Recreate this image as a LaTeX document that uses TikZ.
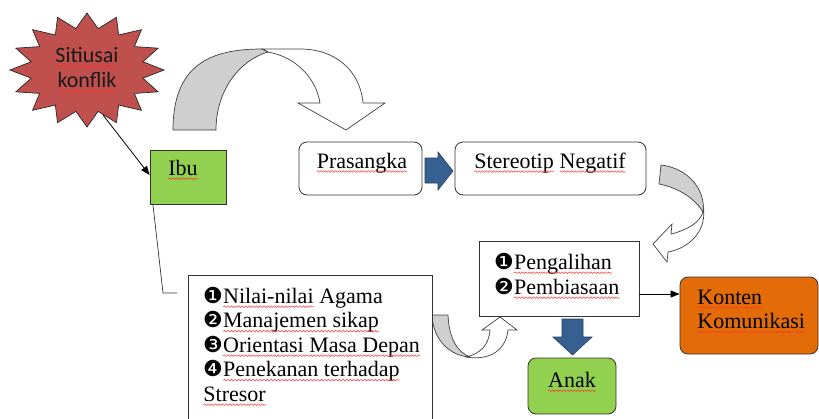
\documentclass[tikz,border=0pt]{standalone}
\usepackage{fontspec}
\setmainfont{Liberation Serif}
\newfontfamily\calfont{Carlito}
\newfontfamily\dvfont{DejaVu Sans}
\usetikzlibrary{arrows.meta,decorations.pathmorphing}
\definecolor{starred}{HTML}{C0504D}
\definecolor{boxgreen}{HTML}{92D050}
\definecolor{boxorange}{HTML}{E36C09}
\definecolor{arrowblue}{HTML}{376092}
\definecolor{arrowblueline}{HTML}{243F60}
\definecolor{curvegray}{HTML}{CFCFCF}
\definecolor{squig}{HTML}{FF3030}
\newcommand\sq[1]{\tikz[baseline=(sqt.base)]{%
  \node[inner sep=0pt, outer sep=0pt, anchor=base, draw=none, fill=none, minimum width=0pt, minimum height=0pt] (sqt) at (0,0) {#1};%
  \draw[squig, line width=0.5pt, decorate, decoration={snake, amplitude=0.8pt, segment length=3.6pt}]
    ([yshift=-3.2pt]sqt.base west) -- ([yshift=-3.2pt]sqt.base east);}}
\newcommand{\bul}[1]{{\dvfont\fontsize{22}{22}\selectfont #1}}
\tikzset{
  serif/.style={font=\fontsize{22}{24.5}\selectfont, inner sep=0pt},
  plainbox/.style={draw=black!80, line width=0.8pt, fill=white, inner sep=0pt},
  roundbox/.style={plainbox, rounded corners=8pt},
  bluearrow/.style={fill=arrowblue, draw=arrowblueline, line width=0.6pt},
  curvefront/.style={fill=white, draw=black!75, line width=0.7pt},
  curveback/.style={fill=curvegray, draw=black!75, line width=0.7pt},
  conn/.style={draw=black, line width=0.8pt},
  connarrow/.style={conn, -{Triangle[length=9pt,width=7pt]}}
}
\begin{document}
\begin{tikzpicture}[x=1pt,y=-1pt]
\useasboundingbox (0,0) rectangle (819,418);

% star
\filldraw[fill=starred, draw=black!85, line width=0.7pt]
  plot[variable=\k, samples at={0,...,31}]
  ({87+77*cos(\k*11.25)*(mod(\k,2)==0 ? 1 : 0.74)},
   {70+57*sin(\k*11.25)*(mod(\k,2)==0 ? 1 : 0.74)}) -- cycle;
\node[font=\calfont\fontsize{22}{25}\selectfont, align=center, inner sep=0pt, text=black!90] (star) at (87,70) {\sq{Sitiusai}\\\sq{konflik}};
\coordinate (starEnd) at (103,115);

% Ibu
\node[plainbox, fill=boxgreen, minimum width=76pt, minimum height=54pt] (ibu) at (188,177) {};
\node[serif] (ibuText) at (183,170) {\sq{Ibu}};
\draw[connarrow] (starEnd) -- (ibu.west |- 0,175);

% big curved arrow
\filldraw[curvefront] (262,49) -- (300,49) .. controls (335,49) and (360,70) .. (363,103)
  -- (385,103) -- (346,130) -- (298,103) -- (320,103)
  .. controls (316,78) and (296,57) .. (268,52) -- cycle;
\filldraw[curveback] (173,130) .. controls (173,65) and (210,49) .. (262,49) -- (268,52)
  .. controls (240,60) and (216,90) .. (216,130) -- cycle;

% Prasangka & Stereotip
\node[roundbox, minimum width=123pt, minimum height=53pt] (pras) at (360.5,168.5) {};
\node[serif] (prasText) at (362,163) {\sq{Prasangka}};
\node[roundbox, minimum width=191pt, minimum height=53pt] (stereo) at (550.5,168.5) {};
\node[serif] (stereoText) at (550,163) {\sq{Stereotip} \sq{Negatif}};
\filldraw[bluearrow] (425,158) -- (438,158) -- (438,152) -- (453,171) -- (438,190) -- (438,183) -- (425,183) -- cycle;

% right curved arrow
\filldraw[curvefront] (703,205) .. controls (708,230) and (690,248) .. (668,252)
  -- (667,262) -- (653,244) -- (672,224) -- (671,234)
  .. controls (688,230) and (700,222) .. (703,212) -- cycle;
\filldraw[curveback] (661,165) .. controls (688,168) and (706,190) .. (703,212)
  .. controls (696,200) and (680,188) .. (659,184) -- cycle;

% small up curved arrow
\filldraw[curvefront] (466,357) .. controls (490,361) and (506,350) .. (508,330)
  -- (517,330) -- (500,317) -- (482,330) -- (490,330)
  .. controls (489,345) and (480,354) .. (466,357) -- cycle;
\filldraw[curveback] (432,315) -- (448,315) .. controls (449,338) and (457,352) .. (470,357)
  .. controls (450,356) and (433,340) .. (432,315) -- cycle;

% Nilai box
\draw[plainbox] (188,425) -- (188,275) -- (432,275) -- (432,425);
\node[serif, anchor=north west, align=left, font=\fontsize{22}{24.5}\selectfont] (nilaiText) at (203,287)
  {\bul{❶}\sq{Nilai-nilai} Agama\\ \bul{❷}\sq{Manajemen sikap}\\ \bul{❸}\sq{Orientasi Masa Depan}\\ \bul{❹}\sq{Penekanan terhadap}\\ \sq{Stresor}};
\coordinate (ibuFoot) at (153,205);
\coordinate (bend) at (163,293);
\coordinate (lineEnd) at (177,293);
\draw[conn, line width=0.7pt, draw=black!80] (ibuFoot) -- (bend) -- (lineEnd);

% Pengalihan
\node[plainbox, minimum width=160pt, minimum height=75pt] (peng) at (559,278.5) {};
\node[serif, anchor=west, align=left, font=\fontsize{22}{25}\selectfont] (pengText) at (494,276)
  {\bul{❶}\sq{Pengalihan}\\ \bul{❷}\sq{Pembiasaan}};

% Konten
\node[roundbox, fill=boxorange, minimum width=138pt, minimum height=77pt] (konten) at (749,315.5) {};
\node[serif, anchor=west, align=left] (kontenText) at (697,311.5) {\sq{Konten}\\\sq{Komunikasi}};
\path ([yshift=-15.5pt]peng.east) coordinate (pa);
\draw[connarrow] (pa) -- (pa -| konten.west);

% blue down arrow and Anak
\filldraw[bluearrow] (562,319) -- (583,319) -- (583,337) -- (592,337) -- (572.5,355) -- (553,337) -- (562,337) -- cycle;
\node[roundbox, fill=boxgreen, minimum width=88pt, minimum height=56pt] (anak) at (572,386) {};
\node[serif] (anakText) at (572,382) {\sq{Anak}};
\end{tikzpicture}
\end{document}
